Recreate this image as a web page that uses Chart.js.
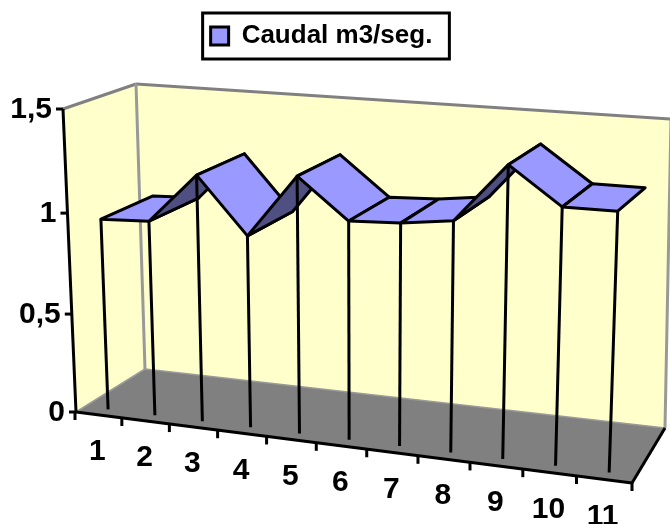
<!DOCTYPE html>
<html>
<head>
<meta charset="utf-8">
<title>Caudal m3/seg.</title>
<script src="https://cdn.jsdelivr.net/npm/chart.js@4"></script>
<style>
html,body{margin:0;padding:0;background:#fff;}
canvas{display:block;}
</style>
</head>
<body>
<canvas id="grafico" width="670" height="524"></canvas>
<script>
// datos
var categorias = ['1','2','3','4','5','6','7','8','9','10','11'];
var caudal = [0.96,0.97,1.21,0.94,1.24,1.05,1.06,1.09,1.36,1.19,1.19];
var ticksY = ['0','0,5','1','1,5'];

// caja 3D en pixeles: F/B = delante/fondo, L/R = izq/der, B/T = abajo/arriba
var FLB=[76,412], FRB=[632,483], BLB=[145,369], BRB=[665,428];
var FLT=[63,109], FRT=[645,145], BLT=[136,84],  BRT=[671,119];
var W1 = 0.13, W2 = 0.86; // profundidad de la cinta
var FUENTE = 'bold 30px "Liberation Sans", Arial, sans-serif';

function mezcla(p, q, k){ return [p[0]+(q[0]-p[0])*k, p[1]+(q[1]-p[1])*k]; }

function perspectiva(u){ return 0.92*u/(1-0.08*u); }
function perspectivaV(t){ return 0.955*t/(1-0.045*t); }

// pasa un punto de las escalas de Chart.js a la perspectiva de la caja
function proyectar(chart, px, py, w){
  var x = chart.scales.x, y = chart.scales.y;
  var u = (px-x.left)/x.width;
  var t = (y.bottom-py)/y.height;
  var a = perspectiva(u);
  var abajo = mezcla(mezcla(FLB,FRB,a), mezcla(BLB,BRB,a), w);
  var arriba = mezcla(mezcla(FLT,FRT,a), mezcla(BLT,BRT,a), w);
  return mezcla(abajo, arriba, perspectivaV(t));
}

function poligono(ctx, pts, relleno, borde, ancho){
  ctx.beginPath();
  pts.forEach(function(p,i){ if(i) ctx.lineTo(p[0],p[1]); else ctx.moveTo(p[0],p[1]); });
  ctx.closePath();
  if(relleno){ ctx.fillStyle = relleno; ctx.fill(); }
  if(borde){ ctx.strokeStyle = borde; ctx.lineWidth = ancho; ctx.stroke(); }
}

function linea(ctx, p, q, color, ancho){
  ctx.beginPath();
  ctx.moveTo(p[0],p[1]);
  ctx.lineTo(q[0],q[1]);
  ctx.strokeStyle = color;
  ctx.lineWidth = ancho;
  ctx.stroke();
}

var cinta3D = {
  id: 'cinta3D',
  beforeDatasetsDraw: function(chart){
    var ctx = chart.ctx, sx = chart.scales.x, sy = chart.scales.y;
    ctx.save();
    ctx.lineJoin = 'round';

    // paredes y suelo
    poligono(ctx, [BLB,BRB,BRT,BLT], '#FFFFCC');
    poligono(ctx, [FLB,BLB,BLT,FLT], '#FFFFCC');
    linea(ctx, BLT, BRT, '#808080', 3);
    linea(ctx, FLT, BLT, '#808080', 3);
    linea(ctx, BLT, BLB, '#999999', 3);
    linea(ctx, BRT, BRB, '#999999', 3);
    poligono(ctx, [FLB,FRB,BRB,BLB], '#808080', '#9a9a9a', 1.5);

    // ejes
    linea(ctx, FLT, FLB, '#000', 3);
    linea(ctx, FLB, FRB, '#000', 3);
    linea(ctx, FRB, BRB, '#000', 3);

    ctx.font = FUENTE;
    ctx.textBaseline = 'middle';

    // eje de valores
    sy.ticks.forEach(function(tick, i){
      var p = proyectar(chart, sx.left, sy.getPixelForValue(tick.value), 0);
      linea(ctx, [p[0]-7,p[1]], p, '#000', 3);
      ctx.textAlign = 'right';
      ctx.fillStyle = '#000';
      ctx.fillText(ticksY[i], p[0]-11, p[1]+1);
    });

    // eje de categorias
    for(var k=0;k<=categorias.length;k++){
      var m = proyectar(chart, sx.left+k*sx.width/categorias.length, sy.bottom, 0);
      m[0] -= k < categorias.length ? 1 : 0;
      linea(ctx, m, [m[0],m[1]+8], '#000', 3);
    }
    categorias.forEach(function(c, i){
      var p = proyectar(chart, sx.getPixelForValue(i), sy.bottom, 0);
      ctx.textAlign = 'center';
      ctx.fillStyle = '#000';
      ctx.fillText(c, p[0]-2, p[1]+37);
    });

    // cinta
    var del = [], fon = [], base = [];
    caudal.forEach(function(v, i){
      var px = sx.getPixelForValue(i), py = sy.getPixelForValue(v);
      var f = proyectar(chart, px, py, W2);
      // el borde del fondo va un poco mas a la derecha que la caja
      f[0] += 1+5*perspectiva((px-sx.left)/sx.width);
      del.push(proyectar(chart, px, py, W1));
      fon.push(f);
      base.push(proyectar(chart, px, sy.bottom, W1));
    });
    for(var i=0;i<caudal.length-1;i++){
      var a = [del[i+1][0]-del[i][0], del[i+1][1]-del[i][1]];
      var b = [fon[i][0]-del[i][0], fon[i][1]-del[i][1]];
      // si la cara queda girada se ve por debajo: mas oscura
      var color = (a[0]*b[1]-a[1]*b[0]) > 0 ? '#4F4F82' : '#9999FF';
      poligono(ctx, [del[i],del[i+1],fon[i+1],fon[i]], color, '#000', 3);
    }
    del.forEach(function(p, i){ linea(ctx, p, base[i], '#000', 3); });

    ctx.restore();
  },
  afterDraw: function(chart){
    var l = chart.legend, h = l.legendHitBoxes[0], ctx = chart.ctx;
    ctx.save();
    ctx.strokeStyle = '#000';
    ctx.lineWidth = 3;
    ctx.strokeRect(h.left-8, l.top, h.width+25, l.height);
    ctx.restore();
  }
};

new Chart(document.getElementById('grafico'), {
  type: 'line',
  data: {
    labels: categorias,
    datasets: [{
      label: 'Caudal m3/seg.',
      data: caudal,
      showLine: false,
      pointRadius: 0,
      backgroundColor: '#9999FF',
      borderColor: '#000',
      borderWidth: 3
    }]
  },
  options: {
    responsive: false,
    animation: false,
    layout: { padding: { top: 13, right: 27 } },
    plugins: {
      tooltip: { enabled: false },
      legend: {
        position: 'top',
        onClick: null,
        labels: {
          boxWidth: 18,
          boxHeight: 18,
          padding: 10,
          color: '#000',
          font: { family: '"Liberation Sans", Arial, sans-serif', size: 26, weight: 'bold' }
        }
      }
    },
    scales: {
      x: { type: 'category', offset: true, display: false },
      y: { min: 0, max: 1.5, ticks: { stepSize: 0.5 }, display: false }
    }
  },
  plugins: [cinta3D]
});
</script>
</body>
</html>
